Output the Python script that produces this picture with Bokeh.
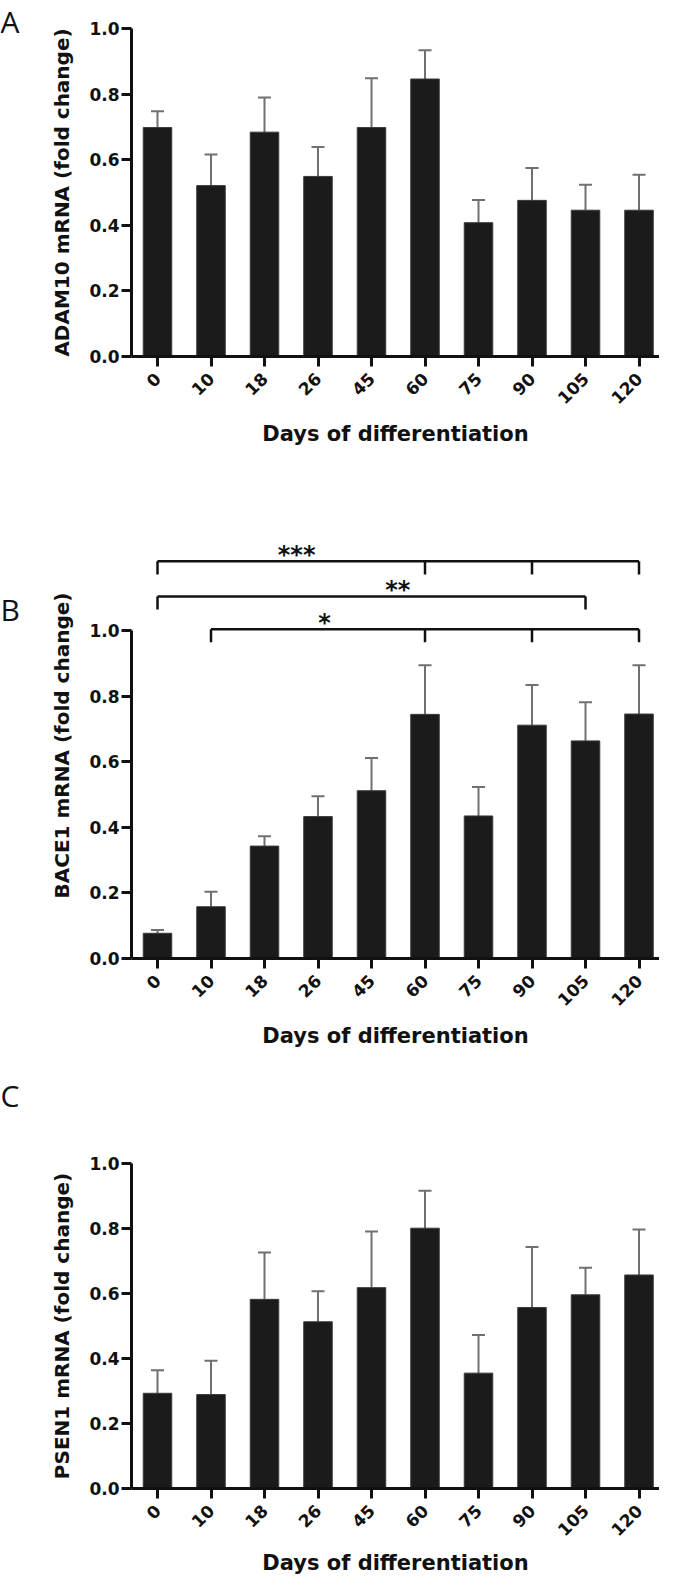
import math
from bokeh.plotting import figure
from bokeh.layouts import column, row
from bokeh.models import (ColumnDataSource, FixedTicker, NumeralTickFormatter,
                          Whisker, TeeHead)
from bokeh.core.properties import value
from bokeh.embed import file_html
from bokeh.resources import INLINE

# ---------------- data ----------------
days = ["0", "10", "18", "26", "45", "60", "75", "90", "105", "120"]

adam10_mean = [0.698, 0.521, 0.684, 0.549, 0.698, 0.846, 0.408, 0.476, 0.446, 0.446]
adam10_sem = [0.050, 0.095, 0.106, 0.090, 0.150, 0.088, 0.069, 0.099, 0.078, 0.108]

bace1_mean = [0.077, 0.158, 0.343, 0.433, 0.512, 0.745, 0.435, 0.712, 0.664, 0.746]
bace1_sem = [0.010, 0.046, 0.030, 0.062, 0.100, 0.150, 0.088, 0.123, 0.118, 0.149]

psen1_mean = [0.293, 0.289, 0.582, 0.513, 0.618, 0.801, 0.355, 0.557, 0.596, 0.657]
psen1_sem = [0.071, 0.104, 0.144, 0.094, 0.173, 0.115, 0.117, 0.186, 0.083, 0.140]

y_ticks = [0.0, 0.2, 0.4, 0.6, 0.8, 1.0]

# significance brackets for panel B (indices into days)
bracket_labels = ["***", "**", "*"]
bracket_drops = [[0, 5, 7, 9], [0, 8], [1, 5, 7, 9]]

panel_letters = ["A", "B", "C"]
y_titles = ["ADAM10 mRNA (fold change)", "BACE1 mRNA (fold change)", "PSEN1 mRNA (fold change)"]
x_title = "Days of differentiation"

# ---------------- style ----------------
BAR = "#1b1b1b"
ERR = "#707070"
AX = "#111111"
FONT = "DejaVu Sans"
LW = 40           # width of the strip holding the panel letter
W = 659 - LW
LEFT = 131 - LW
XR = (-0.486, 9.383)


def letter_strip(letter, height, center):
    f = figure(width=LW, height=height, x_range=(0, LW), y_range=(height, 0),
               x_axis_type=None, y_axis_type=None, output_backend="svg",
               toolbar_location=None, title=None, min_border=0)
    f.frame_align = False
    f.outline_line_color = None
    f.text(x=[0], y=[center], text=[letter], text_font=value("Open Sans"),
           text_font_size="30px", text_color="#111111",
           text_baseline="middle", text_align="left")
    return f


def make_panel(mean, sem, ytitle, height, top, bottom, ymax, label_standoff=9):
    xs = list(range(len(days)))
    upper = [m + s for m, s in zip(mean, sem)]
    src = ColumnDataSource(dict(x=xs, top=mean, upper=upper))
    p = figure(width=W, height=height, x_range=XR, y_range=(0, ymax),
               output_backend="svg", toolbar_location=None, title=None,
               min_border_left=LEFT, min_border_right=0,
               min_border_top=top, min_border_bottom=bottom)
    p.frame_align = False
    p.outline_line_color = None
    p.grid.visible = False

    p.vbar(x="x", top="top", width=0.533, bottom=0, source=src,
           fill_color=BAR, line_color="#3a3a3a", line_width=1)
    w = Whisker(base="x", lower="top", upper="upper", source=src,
                line_color=ERR, line_width=2,
                upper_head=TeeHead(size=13, line_color=ERR, line_width=2),
                lower_head=None)
    p.add_layout(w)

    ya = p.yaxis[0]
    ya.ticker = FixedTicker(ticks=y_ticks)
    ya.formatter = NumeralTickFormatter(format="0.0")
    ya.bounds = (0, 1)
    ya.axis_line_width = 3
    ya.axis_line_color = AX
    ya.major_tick_line_width = 3
    ya.major_tick_line_color = AX
    ya.major_tick_in = 0
    ya.major_tick_out = 10
    ya.minor_tick_line_color = None
    ya.major_label_standoff = 2
    ya.major_label_text_font = FONT
    ya.major_label_text_font_style = "bold"
    ya.major_label_text_font_size = "17px"
    ya.major_label_text_color = AX
    ya.axis_label = ytitle
    ya.axis_label_text_font = FONT
    ya.axis_label_text_font_style = "bold"
    ya.axis_label_text_font_size = "20px"
    ya.axis_label_text_color = AX
    ya.axis_label_standoff = 12

    xa = p.xaxis[0]
    xa.ticker = FixedTicker(ticks=xs)
    xa.major_label_overrides = {i: d for i, d in enumerate(days)}
    xa.major_label_orientation = math.pi / 4
    xa.axis_line_width = 3
    xa.axis_line_color = AX
    xa.major_tick_line_width = 3
    xa.major_tick_line_color = AX
    xa.major_tick_in = 0
    xa.major_tick_out = 10
    xa.minor_tick_line_color = None
    xa.major_label_standoff = 9
    xa.major_label_text_font = FONT
    xa.major_label_text_font_style = "bold"
    xa.major_label_text_font_size = "17px"
    xa.major_label_text_color = AX
    xa.axis_label = x_title
    xa.axis_label_text_font = FONT
    xa.axis_label_text_font_style = "bold"
    xa.axis_label_text_font_size = "21px"
    xa.axis_label_text_color = AX
    xa.axis_label_standoff = label_standoff
    return p


HA, HB, HC = 470, 590, 517

pA = make_panel(adam10_mean, adam10_sem, y_titles[0],
                height=HA, top=28, bottom=114, ymax=1.0)
pB = make_panel(bace1_mean, bace1_sem, y_titles[1],
                height=HB, top=62, bottom=102, ymax=1.30)
pC = make_panel(psen1_mean, psen1_sem, y_titles[2],
                height=HC, top=103, bottom=86, ymax=1.0, label_standoff=6)

# brackets on B
levels = [1.212, 1.105, 1.005]
drop = 0.040
bx, by = [], []
for lev, drops in zip(levels, bracket_drops):
    bx.append([drops[0], drops[-1]])
    by.append([lev, lev])
    for d in drops:
        bx.append([d, d])
        by.append([lev, lev - drop])
pB.multi_line(xs=bx, ys=by, line_color="#111111", line_width=2.5)
star_x = [2.6, 4.49, 3.12]
star_y = [lev + 0.020 for lev in levels]
pB.text(x=star_x, y=star_y, text=bracket_labels, text_font=value("DejaVu Sans"),
        text_font_style="bold", text_font_size="24px", text_align="center",
        text_baseline="middle", text_color="#111111")

lA = letter_strip(panel_letters[0], HA, 21)
lB = letter_strip(panel_letters[1], HB, 139)
lC = letter_strip(panel_letters[2], HC, 35)

layout = column(row(lA, pA, spacing=0), row(lB, pB, spacing=0),
                row(lC, pC, spacing=0), spacing=0)
open("out.html", "w").write(file_html(layout, INLINE))
